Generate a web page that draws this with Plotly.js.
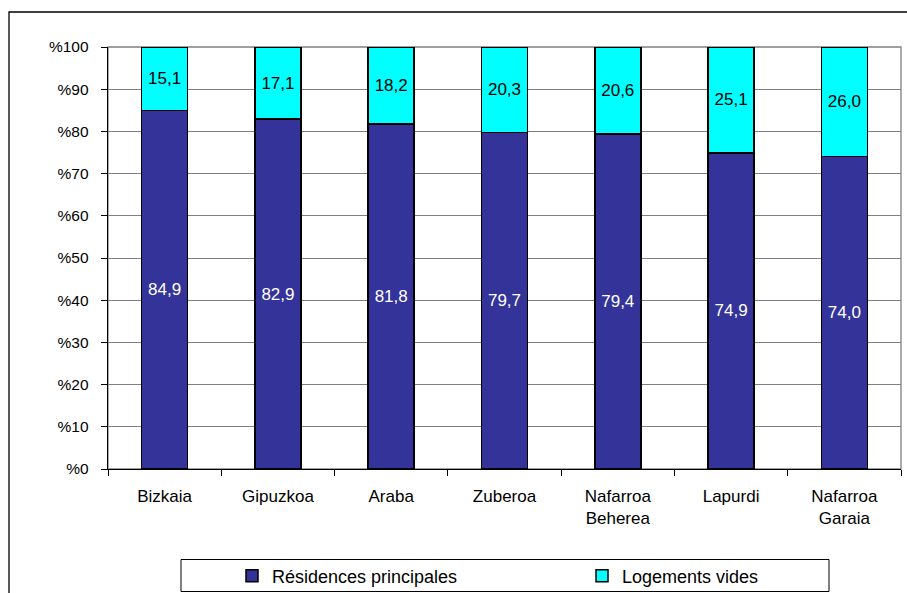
<!DOCTYPE html>
<html>
<head>
<meta charset="utf-8">
<script src="https://cdn.plot.ly/plotly-3.0.1.min.js"></script>
<style>
  html, body { margin: 0; padding: 0; background: #ffffff; }
  #chart { width: 907px; height: 593px; }
</style>
</head>
<body>
<div id="chart"></div>
<script>
const categories = ["Bizkaia", "Gipuzkoa", "Araba", "Zuberoa", "Nafarroa<br>Beherea", "Lapurdi", "Nafarroa<br>Garaia"];
const residencesPrincipales = [84.9, 82.9, 81.8, 79.7, 79.4, 74.9, 74.0];
const logementsVides = [15.1, 17.1, 18.2, 20.3, 20.6, 25.1, 26.0];
const seriesNames = ["Résidences principales", "Logements vides"];
const yTickValues = [0, 10, 20, 30, 40, 50, 60, 70, 80, 90, 100];
const yTickLabels = ["%0", "%10", "%20", "%30", "%40", "%50", "%60", "%70", "%80", "%90", "%100"];

const fmt = v => v.toFixed(1).replace('.', ',');
const FONT = '"Liberation Sans", Arial, sans-serif';

const W = 907, H = 593;
const L = 108, R = 6, T = 47, B = 124;
const pw = W - L - R, ph = H - T - B;
const px2x = x => (x - L) / pw;
const px2y = y => (H - B - y) / ph;

const traces = [
  {
    type: 'bar',
    name: seriesNames[0],
    legend: 'legend',
    x: categories,
    y: residencesPrincipales,
    text: residencesPrincipales.map(fmt),
    textposition: 'inside',
    insidetextanchor: 'middle',
    textangle: 0,
    constraintext: 'none',
    textfont: { family: FONT, size: 17, color: '#ffffff' },
    marker: { color: '#333399', line: { color: '#000000', width: 1.5 } },
    hoverinfo: 'skip'
  },
  {
    type: 'bar',
    name: seriesNames[1],
    legend: 'legend2',
    x: categories,
    y: logementsVides,
    text: logementsVides.map(fmt),
    textposition: 'inside',
    insidetextanchor: 'middle',
    textangle: 0,
    constraintext: 'none',
    textfont: { family: FONT, size: 17, color: '#000000' },
    marker: { color: '#00ffff', line: { color: '#000000', width: 1.5 } },
    hoverinfo: 'skip'
  }
];

const legendBase = {
  orientation: 'h',
  xanchor: 'left',
  yanchor: 'middle',
  font: { family: FONT, size: 18, color: '#000000' },
  bgcolor: 'rgba(0,0,0,0)',
  borderwidth: 0
};

const layout = {
  width: W,
  height: H,
  margin: { l: L, r: R, t: T, b: B, pad: 0, autoexpand: false },
  paper_bgcolor: '#ffffff',
  plot_bgcolor: '#ffffff',
  barmode: 'stack',
  bargap: 0.594,
  font: { family: FONT, size: 16, color: '#000000' },
  showlegend: true,
  legend: Object.assign({}, legendBase, { x: px2x(232), y: px2y(576) }),
  legend2: Object.assign({}, legendBase, { x: px2x(582), y: px2y(576) }),
  xaxis: {
    type: 'category',
    showgrid: false,
    showline: true,
    linecolor: '#000000',
    linewidth: 1.3,
    ticks: 'outside',
    tickson: 'boundaries',
    ticklen: 6,
    tickcolor: '#000000',
    tickwidth: 1,
    ticklabelstandoff: 11,
    tickfont: { family: FONT, size: 17, color: '#000000' },
    zeroline: false,
    fixedrange: true
  },
  yaxis: {
    range: [0, 100],
    tickmode: 'array',
    tickvals: yTickValues,
    ticktext: yTickLabels,
    showgrid: true,
    gridcolor: '#808080',
    gridwidth: 1,
    showline: true,
    linecolor: '#000000',
    linewidth: 1.3,
    ticks: 'outside',
    ticklen: 6,
    tickcolor: '#000000',
    tickwidth: 1,
    ticklabelstandoff: 9,
    tickfont: { family: FONT, size: 15.5, color: '#000000' },
    zeroline: false,
    fixedrange: true
  },
  shapes: [
    {
      type: 'rect', xref: 'paper', yref: 'paper', layer: 'below',
      x0: 0, x1: 1, y0: 0, y1: 1,
      line: { color: '#808080', width: 1.3 }, fillcolor: 'rgba(0,0,0,0)'
    },
    {
      type: 'rect', xref: 'paper', yref: 'paper', layer: 'above',
      x0: px2x(9), x1: px2x(915), y0: px2y(12), y1: px2y(605),
      line: { color: '#000000', width: 1.3 }, fillcolor: 'rgba(0,0,0,0)'
    },
    {
      type: 'rect', xref: 'paper', yref: 'paper', layer: 'above',
      x0: px2x(181), x1: px2x(829), y0: px2y(559.5), y1: px2y(591.5),
      line: { color: '#000000', width: 1 }, fillcolor: 'rgba(0,0,0,0)'
    }
  ]
};

Plotly.newPlot('chart', traces, layout, { staticPlot: true, displayModeBar: false });
</script>
</body>
</html>
